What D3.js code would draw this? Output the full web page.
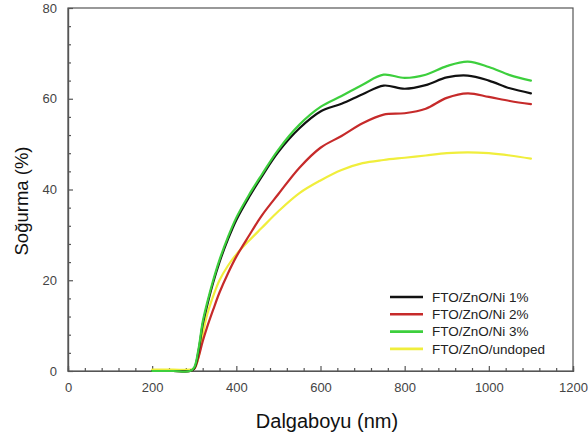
<!DOCTYPE html>
<html><head><meta charset="utf-8">
<script src="https://cdn.jsdelivr.net/npm/d3@7"></script>
<style>body{margin:0;background:#fff}svg{display:block;font-family:"Liberation Sans",Arial,sans-serif}</style>
</head><body><svg id="c" width="588" height="439"></svg>
<script>
const wavelengths = [200,250,290,300,310,320,330,345,360,380,400,430,460,500,550,600,650,700,750,800,850,900,950,1000,1050,1100];
const ni1 = [0,0,0,0.6,4.3,10.2,14.2,19.5,24,29,33.3,38.3,42.8,48.3,53.5,57.2,58.9,61,62.9,62.2,63,64.7,65.1,64,62.3,61.2];
const ni2 = [0,0,0,0.5,3,6.5,9.5,13.5,17.3,21.5,25.2,29.8,34.2,39,44.8,49.2,51.8,54.6,56.5,56.8,57.8,60.2,61.2,60.4,59.5,58.8];
const ni3 = [0,0,0,0.8,4.8,10.8,14.8,20,24.5,29.5,33.8,38.8,43.2,48.8,54.3,58.2,60.6,63.1,65.3,64.6,65.3,67.2,68.2,67,65.2,64];
const undoped = [0.3,0.3,0.3,0.5,3,8,12.2,16.5,20,23.2,25.7,28.7,31.5,35.2,39.2,42,44.3,45.8,46.5,47,47.5,48,48.2,48,47.5,46.8];
const seriesNames = ["FTO/ZnO/Ni 1%","FTO/ZnO/Ni 2%","FTO/ZnO/Ni 3%","FTO/ZnO/undoped"];
const seriesColors = ["#111111","#c62a2a","#3dcf3d","#f0ee3c"];
const xTicks = [0,200,400,600,800,1000,1200];
const yTicks = [0,20,40,60,80];
const xTitle = "Dalgaboyu (nm)";
const yTitle = "Soğurma (%)";

const seriesValues = [ni1, ni2, ni3, undoped];
const svg = d3.select("#c");
const m = {l:68, t:8, r:573, b:371};
const x = d3.scaleLinear().domain([0,1200]).range([m.l, m.r]);
const y = d3.scaleLinear().domain([0,80]).range([m.b, m.t]);

svg.append("rect").attr("x",m.l).attr("y",m.t).attr("width",m.r-m.l).attr("height",m.b-m.t)
  .attr("fill","none").attr("stroke","#555").attr("stroke-width",1.2);

const gx = svg.append("g").attr("transform",`translate(0,${m.b})`);
gx.call(d3.axisBottom(x).tickValues(xTicks).tickSize(-5).tickPadding(12).tickFormat(d3.format("d")));
gx.append("g").call(d3.axisBottom(x).tickValues(d3.range(0,1201,40).filter(v=>v%200)).tickSize(-3).tickFormat(""));
const gy = svg.append("g").attr("transform",`translate(${m.l},0)`);
gy.call(d3.axisLeft(y).tickValues(yTicks).tickSize(-5).tickPadding(11).tickFormat(d3.format("d")));
gy.append("g").call(d3.axisLeft(y).tickValues(d3.range(0,81,4).filter(v=>v%20)).tickSize(-3).tickFormat(""));
svg.selectAll(".domain").attr("stroke","#555").attr("stroke-width",1.2);
svg.selectAll(".tick line").attr("stroke","#555").attr("stroke-width",1.2);
svg.selectAll(".tick text").attr("fill","#444").attr("font-size",13).attr("font-family","Liberation Sans, Arial, sans-serif");

const line = d3.line().x((d,i)=>x(wavelengths[i])).y(d=>y(d)).curve(d3.curveCatmullRom.alpha(0.5));
const order = [3,1,0,2];
order.forEach(k=>{
  svg.append("path").datum(seriesValues[k]).attr("d",line)
    .attr("fill","none").attr("stroke",seriesColors[k]).attr("stroke-width",2.2)
    .attr("stroke-linejoin","round").attr("stroke-linecap","round");
});

const lg = svg.append("g");
seriesNames.forEach((n,i)=>{
  const yy = 297 + i*17.3;
  lg.append("line").attr("x1",390).attr("x2",423).attr("y1",yy).attr("y2",yy)
    .attr("stroke",seriesColors[i]).attr("stroke-width",2.6);
  lg.append("text").attr("x",432).attr("y",yy).attr("dy","0.35em")
    .attr("font-size",13.5).attr("fill","#222").text(n);
});

svg.append("text").attr("x",327).attr("y",428).attr("text-anchor","middle")
  .attr("font-size",20).attr("fill","#111").text(xTitle);
svg.append("text").attr("transform","translate(28,201) rotate(-90)").attr("text-anchor","middle")
  .attr("font-size",18.5).attr("fill","#111").text(yTitle);
</script></body></html>
